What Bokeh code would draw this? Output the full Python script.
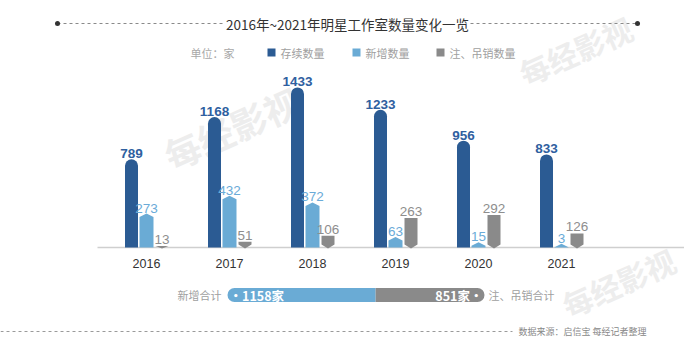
import numpy as np
from bokeh.plotting import figure
from bokeh.models import Range1d, ColumnDataSource
from bokeh.core.properties import value
from bokeh.embed import file_html
from bokeh.resources import INLINE

# ---------------- data ----------------
years = ["2016", "2017", "2018", "2019", "2020", "2021"]
existing = [789, 1168, 1433, 1233, 956, 833]      # 存续数量
new_added = [273, 432, 372, 63, 15, 3]            # 新增数量
cancelled = [13, 51, 106, 263, 292, 126]          # 注、吊销数量
legend_labels = ["存续数量", "新增数量", "注、吊销数量"]
title_text = "2016年~2021年明星工作室数量变化一览"
unit_text = "单位：家"
source_text = "数据来源：启信宝 每经记者整理"

# ---------------- style ----------------
C_DARK = "#2b5b93"
C_LIGHT = "#6aabd5"
C_GREY = "#8a8a8a"
T_DARK = "#2f60a0"
T_LIGHT = "#6aabd8"
T_GREY = "#8e8e8e"
CJK = value("Noto Sans CJK SC")
LAT = value("Liberation Sans")

W, H = 684, 342
PX_PER_UNIT = 0.1117          # vertical pixels per value unit
BASE_PX = 247                 # baseline distance from top
GROUP_PX = 83                 # pixels between year groups
FIRST_PX = 146                # first group centre from left
upx = 1.0 / PX_PER_UNIT       # value units per pixel
gpx = 1.0 / GROUP_PX          # group units per pixel

p = figure(width=W, height=H,
           x_range=Range1d(-FIRST_PX * gpx, (W - FIRST_PX) * gpx),
           y_range=Range1d(-(H - BASE_PX) * upx, BASE_PX * upx),
           x_axis_type=None, y_axis_type=None,
           toolbar_location=None, output_backend="svg",
           min_border=0, min_border_left=0, min_border_right=0,
           min_border_top=0, min_border_bottom=0)
p.outline_line_color = None
p.background_fill_color = "white"
p.border_fill_color = "white"

# screen-like extra ranges for annotations
p.extra_x_ranges["scr"] = Range1d(0, W)
p.extra_y_ranges["scr"] = Range1d(H, 0)
tot_new = int(sum(new_added))
tot_cancel = int(sum(cancelled))
tot = tot_new + tot_cancel
bar_l, bar_r = 227, 484
p.extra_x_ranges["tot"] = Range1d(-bar_l * tot / (bar_r - bar_l), (W - bar_l) * tot / (bar_r - bar_l))

# ---------------- watermarks ----------------
p.text(x=[231, 575, 618], y=[127, 50, 282], text=["每经影视"] * 3,
       x_range_name="scr", y_range_name="scr", angle=0.42,
       text_align="center", text_baseline="middle", text_font=CJK,
       text_font_style="bold", text_font_size=["36px", "30px", "30px"], text_color="#ededed")

idx = np.arange(len(years), dtype=float)
n = len(years)

# ---------------- baseline ----------------
p.segment(x0=[-49 * gpx], y0=[0], x1=[(n - 1) + 457 * gpx], y1=[0],
          line_color="#cfcfcf", line_width=1.5)

# ---------------- bars ----------------
off_d, off_l, off_g = -15 * gpx, 0.0, 15.5 * gpx
w_d, w_l, w_g = 13 * gpx, 14 * gpx, 13 * gpx

src_d = ColumnDataSource(dict(x=idx + off_d, top=existing, lab=[str(v) for v in existing]))
p.vbar(x="x", top="top", bottom=0, width=w_d, source=src_d,
       fill_color=C_DARK, line_color=None, border_radius=(7, 7, 0, 0))

peak = 3.5 * upx
xs_l, ys_l = [], []
for i, v in enumerate(new_added):
    cx = i + off_l
    xs_l.append([cx - w_l / 2, cx - w_l / 2, cx, cx + w_l / 2, cx + w_l / 2])
    ys_l.append([0, v, v + peak, v, 0])
p.patches(xs=xs_l, ys=ys_l, fill_color=C_LIGHT, line_color=None)

notch = 3 * upx
xs_g, ys_g = [], []
for i, v in enumerate(cancelled):
    cx = i + off_g
    s = min(notch, v)
    xs_g.append([cx - w_g / 2, cx + w_g / 2, cx + w_g / 2, cx, cx - w_g / 2])
    ys_g.append([v, v, s, -1 * upx, s])
p.patches(xs=xs_g, ys=ys_g, fill_color=C_GREY, line_color=None)

# ---------------- value labels ----------------
p.text(x="x", y="top", text="lab", source=src_d, y_offset=-1,
       text_align="center", text_baseline="bottom", text_font=LAT,
       text_font_style="bold", text_font_size="13.5px", text_color=T_DARK)
p.text(x=list(idx + off_l), y=[v + peak for v in new_added], text=[str(v) for v in new_added],
       y_offset=-1, text_align="center", text_baseline="bottom", text_font=LAT,
       text_font_size="13.5px", text_color=T_LIGHT)
p.text(x=list(idx + off_g), y=cancelled, text=[str(v) for v in cancelled],
       y_offset=-2, text_align="center", text_baseline="bottom", text_font=LAT,
       text_font_size="13.5px", text_color=T_GREY)

# year labels
p.text(x=list(idx), y=[0] * n, text=years, y_offset=16,
       text_align="center", text_baseline="middle", text_font=LAT,
       text_font_size="12.5px", text_color="#333333")

# ---------------- title ----------------
p.text(x=[347], y=[23], text=[title_text], x_range_name="scr", y_range_name="scr",
       text_align="center", text_baseline="middle", text_font=CJK,
       text_font_size="13.5px", text_color="#333333")
p.segment(x0=[57, 470], y0=[23, 23], x1=[224, 637], y1=[23, 23],
          x_range_name="scr", y_range_name="scr",
          line_color="#8a8a8a", line_width=1, line_dash="3 3")
p.scatter(x=[57, 637], y=[23, 23], x_range_name="scr", y_range_name="scr",
          size=5, fill_color="#333333", line_color=None)

# ---------------- legend ----------------
p.text(x=[190], y=[52], text=[unit_text], x_range_name="scr", y_range_name="scr",
       text_align="left", text_baseline="middle", text_font=CJK,
       text_font_size="11px", text_color="#a8a8a8")
p.scatter(x=[271, 356, 440], y=[52, 52, 52], x_range_name="scr", y_range_name="scr",
          marker="square", size=8, fill_color=[C_DARK, C_LIGHT, C_GREY], line_color=None)
p.text(x=[280, 365, 449], y=[52, 52, 52], text=legend_labels,
       x_range_name="scr", y_range_name="scr",
       text_align="left", text_baseline="middle", text_font=CJK,
       text_font_size="11px", text_color="#a0a0a0")

# ---------------- totals bar ----------------
p.hbar(y=[294.5], left=[0], right=[tot_new], height=14,
       x_range_name="tot", y_range_name="scr",
       fill_color=C_LIGHT, line_color=None, border_radius=(7, 0, 0, 7))
p.hbar(y=[294.5], left=[tot_new], right=[tot], height=14,
       x_range_name="tot", y_range_name="scr",
       fill_color=C_GREY, line_color=None, border_radius=(0, 7, 7, 0))
p.text(x=[0], y=[294.5], text=["·%d家" % tot_new], x_range_name="tot", y_range_name="scr",
       x_offset=2, text_align="left", text_baseline="middle", text_font=CJK,
       text_font_style="bold", text_font_size="12.5px", text_color="white")
p.text(x=[tot], y=[294.5], text=["%d家·" % tot_cancel], x_range_name="tot", y_range_name="scr",
       x_offset=-2, text_align="right", text_baseline="middle", text_font=CJK,
       text_font_style="bold", text_font_size="12.5px", text_color="white")
p.text(x=[0], y=[294.5], text=["新增合计"], x_range_name="tot", y_range_name="scr",
       x_offset=-6, text_align="right", text_baseline="middle", text_font=CJK,
       text_font_size="11px", text_color="#a0a0a0")
p.text(x=[tot], y=[294.5], text=["注、吊销合计"], x_range_name="tot", y_range_name="scr",
       x_offset=4, text_align="left", text_baseline="middle", text_font=CJK,
       text_font_size="11px", text_color="#a0a0a0")

# ---------------- source ----------------
p.segment(x0=[0], y0=[331], x1=[512], y1=[331], x_range_name="scr", y_range_name="scr",
          line_color="#9a9a9a", line_width=1, line_dash="3 3")
p.text(x=[518], y=[331], text=[source_text], x_range_name="scr", y_range_name="scr",
       text_align="left", text_baseline="middle", text_font=CJK,
       text_font_size="9px", text_color="#888888")

open("out.html", "w").write(file_html(p, INLINE))
